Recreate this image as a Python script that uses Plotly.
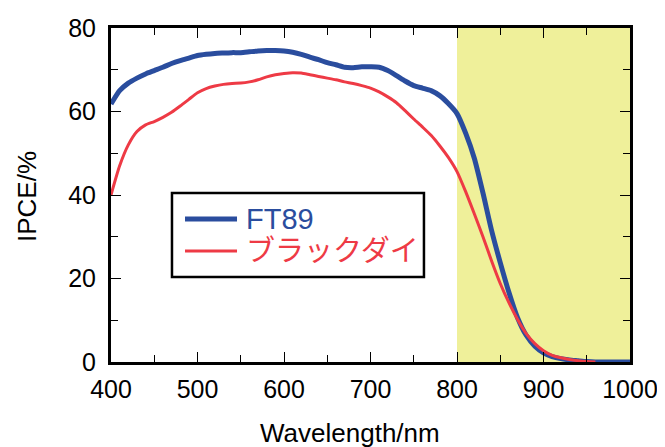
import plotly.graph_objects as go

wavelength = list(range(400, 1010, 10))

ft89 = [61.8, 65.0, 66.8, 68.0, 69.0, 69.8, 70.6, 71.5, 72.2, 72.8,
        73.4, 73.7, 73.9, 74.0, 74.1, 74.1, 74.3, 74.5, 74.6, 74.6,
        74.5, 74.2, 73.7, 73.0, 72.4, 71.7, 71.2, 70.6, 70.5, 70.7,
        70.7, 70.6, 69.8, 68.6, 67.3, 66.2, 65.6, 65.0, 63.8, 61.9,
        59.5, 54.8, 48.8, 40.5, 31.5, 23.8, 16.7, 10.6, 6.4, 3.8,
        2.2, 1.3, 0.8, 0.5, 0.3, 0.1, 0.0, 0.0, 0.0, 0.0, 0.0]

black_dye_wl = list(range(400, 970, 10))
black_dye = [40.0, 47.0, 52.0, 55.2, 56.8, 57.6, 58.6, 59.8, 61.3, 62.9,
             64.5, 65.5, 66.1, 66.5, 66.7, 66.8, 67.1, 67.6, 68.3, 68.8,
             69.1, 69.3, 69.2, 68.8, 68.4, 68.0, 67.6, 67.1, 66.7, 66.2,
             65.6, 64.7, 63.5, 62.1, 60.2, 58.2, 56.3, 54.3, 51.8, 49.0,
             45.6, 40.8, 35.5, 30.0, 24.2, 18.8, 14.2, 10.2, 6.8, 4.4,
             2.7, 1.6, 1.0, 0.6, 0.3, 0.1, 0.0]

names = ["FT89", "ブラックダイ"]
colors = ["#2a4d9e", "#ee3a45"]
widths = [5, 3]
shade_range = [800, 1000]
x_title = "Wavelength/nm"
y_title = "IPCE/%"

FONT = "Liberation Sans, Arial, Noto Sans CJK JP, sans-serif"

fig = go.Figure()
for xs, ys, nm, c, w in [(wavelength, ft89, names[0], colors[0], widths[0]),
                         (black_dye_wl, black_dye, names[1], colors[1], widths[1])]:
    fig.add_trace(go.Scatter(x=xs, y=ys, mode="lines", name=nm, showlegend=False,
                             line=dict(color=c, width=w, shape="spline", smoothing=0.6)))

fig.add_shape(type="rect", xref="x", yref="y",
              x0=shade_range[0], x1=shade_range[1], y0=0, y1=80,
              fillcolor="#eff09a", line=dict(width=0), layer="below")

# manual legend box
fig.add_shape(type="rect", xref="paper", yref="paper",
              x0=0.1175, x1=0.603, y0=0.2545, y1=0.506,
              fillcolor="white", line=dict(color="black", width=2.5))
for yy, nm, c, w in [(0.428, names[0], colors[0], widths[0]),
                     (0.332, names[1], colors[1], widths[1])]:
    fig.add_shape(type="line", xref="paper", yref="paper",
                  x0=0.1426, x1=0.2428, y0=yy, y1=yy, line=dict(color=c, width=w))
    fig.add_annotation(xref="paper", yref="paper", x=0.2563, y=yy, text=nm,
                       showarrow=False, xanchor="left", yanchor="middle",
                       font=dict(size=29, color=c, family=FONT))

axis_common = dict(showline=True, linewidth=3, linecolor="black", mirror="allticks",
                   ticks="inside", tickcolor="black", tickwidth=1.2, ticklen=10,
                   showgrid=False, zeroline=False, automargin=False,
                   tickfont=dict(size=25, color="black", family=FONT))

fig.update_xaxes(range=[400, 1000], dtick=100, tick0=400, ticklabelstandoff=3,
                 minor=dict(ticks="inside", dtick=50, ticklen=7, tickcolor="black", tickwidth=1),
                 **axis_common)
fig.update_yaxes(range=[0, 80], dtick=20, tick0=0, ticklabelstandoff=7,
                 minor=dict(ticks="inside", dtick=10, ticklen=7, tickcolor="black", tickwidth=1),
                 **axis_common)

fig.add_annotation(xref="paper", yref="paper", x=0.46, y=-0.212, text=x_title,
                   showarrow=False, xanchor="center", yanchor="middle",
                   font=dict(size=26, color="black", family=FONT))
fig.add_annotation(xref="paper", yref="paper", x=-0.1618, y=0.494, text=y_title,
                   showarrow=False, xanchor="center", yanchor="middle", textangle=-90,
                   font=dict(size=26, color="black", family=FONT))

# page body has an 8px margin; compensate so the plot lands where the reference has it
fig.update_layout(
    width=665, height=447,
    margin=dict(l=103, r=43, t=20, b=93),
    paper_bgcolor="white", plot_bgcolor="white",
    font=dict(family=FONT, size=22, color="black"),
    showlegend=False,
)

fig.write_html("out.html")
